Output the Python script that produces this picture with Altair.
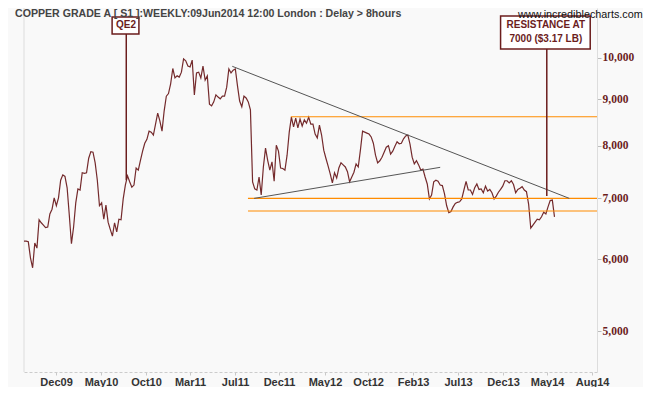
import altair as alt
import pandas as pd

# ---------------- data ----------------
start_date = "2009-09-21"          # first weekly bar (Mondays), last = 2014-06-09
prices = [
    6280, 6280, 6270, 6020, 5870, 6250, 6170, 6630, 6580, 6540,
    6500, 6510, 6730, 6810, 7010, 6870, 7010, 7330, 7430, 7400,
    7190, 6710, 6240, 6510, 6920, 7170, 7150, 7470, 7460, 7470,
    7750, 7880, 7870, 7660, 7330, 6870, 6920, 6640, 6880, 6590,
    6470,
    6360, 6580, 6430, 6640, 6630, 6990, 7240, 7410, 7300, 7200,
    7240, 7560, 7520, 7710, 7890, 8050, 8130, 8300, 8280, 8220,
    8450, 8690, 8520, 8300, 8740, 9070, 9130, 9360, 9730, 9500,
    9550, 9520, 9640, 9970, 9920, 9790, 9770, 9940, 9100, 9620,
    9640, 9500, 9790, 9450, 9550, 8890, 8850, 8940, 9100, 9050,
    9010, 9070, 9070, 9280, 9720, 9620, 9690, 9720, 9310, 8960,
    8830, 9070, 9030, 8940, 8760, 7300, 7170, 7150, 7390, 7060,
    7580, 7950, 7710, 7520, 7680, 7310, 8010, 7890, 7560, 7550,
    7520, 7810, 8280,
    8600, 8390, 8580, 8370, 8560, 8410, 8540, 8470, 8600, 8450,
    8450, 8240, 8160, 8430, 8220, 7910, 7750, 7600, 7450, 7280,
    7470, 7370, 7560, 7660, 7620, 7580, 7490, 7300, 7390, 7480,
    7640, 7580, 7910, 8300, 8280, 8260, 8240, 8180, 8050,
    7810, 7660, 7700, 7770, 7870, 7970, 8000, 7830, 7890, 7990,
    8080, 8040, 8050, 8140, 8200, 8220, 8030, 7770, 7640, 7700,
    7620, 7520, 7540, 7390, 7260, 6990, 7060, 7300, 7330, 7310,
    7240, 7230, 7080, 6870, 6750, 6770, 6850, 6910, 6930, 6940,
    6990,
    7150, 7310, 7150, 7150, 7070, 7190, 7260, 7160, 7170, 7100,
    7220, 7130, 7160, 7100, 6990, 7040, 7110, 7160, 7220, 7320,
    7320, 7280, 7320, 7250, 7100, 7160, 7180, 7210, 7150, 7120,
    6900, 6490, 6540, 6590, 6640, 6630, 6680, 6760, 6730, 6850,
    6960, 6970, 6680,
]

tick_dates = ["2010-01-03", "2010-05-29", "2010-10-22", "2011-03-14", "2011-08-07",
              "2011-12-28", "2012-05-25", "2012-10-12", "2013-03-07", "2013-07-31",
              "2013-12-24", "2014-05-16", "2014-10-09"]
tick_labels = ["Dec09", "May10", "Oct10", "Mar11", "Jul11", "Dec11", "May12",
               "Oct12", "Feb13", "Jul13", "Dec13", "May14", "Aug14"]
y_ticks = [5000, 6000, 7000, 8000, 9000, 10000]
x_domain = ["2009-09-21", "2014-10-25"]
y_domain = [4507, 11343]

# horizontal support / resistance levels
level_start = ["2011-09-18", "2011-09-18", "2012-02-04"]
level_end = ["2014-10-25", "2014-10-25", "2014-10-25"]
level_value = [7000, 6780, 8610]

# trend lines
trend_d1 = ["2011-07-29", "2011-10-08"]
trend_p1 = [9784, 7000]
trend_d2 = ["2014-07-27", "2013-06-03"]
trend_p2 = [7000, 7573]

# annotation call-outs
ann_date = ["2010-08-19", "2014-05-15"]
ann_low = [7331, 7042]
ann_high = [10619, 10223]
box_x1 = ["2010-07-04", "2013-12-16"]
box_x2 = ["2010-09-29", "2014-10-03"]
box_top = [11087, 11115]
box_bottom = [10619, 10223]
ann_text = ["QE2", "RESISTANCE AT", "7000 ($3.17 LB)"]
ann_text_date = ["2010-08-18", "2014-05-12", "2014-05-12"]
ann_text_price = [10851, 10865, 10478]

title_text = "COPPER GRADE A [ S1 ]:WEEKLY:09Jun2014 12:00 London : Delay > 8hours"
site_text = "www.incrediblecharts.com"

# ---------------- build ----------------
MAROON = "#6b1d1d"
LINE = "#742a2c"
ORANGE = "#ff8c00"
W, H = 573, 364


def dt(s):
    y, m, d = (int(v) for v in s.split("-"))
    return alt.DateTime(year=y, month=m, date=d)


dates = [d.strftime("%Y-%m-%d") for d in pd.date_range(start_date, periods=len(prices), freq="7D")]
df = pd.DataFrame({"date": dates, "price": prices})

label_expr = "[" + ",".join("'%s'" % t for t in tick_labels) + "][round(datum.index*%d)]" % (len(tick_labels) - 1)

xscale = alt.Scale(domain=[dt(s) for s in x_domain], nice=False)
yscale = alt.Scale(type="log", domain=y_domain, nice=False)
xaxis = alt.Axis(values=[dt(s) for s in tick_dates], labelExpr=label_expr,
                 labelFont="Liberation Sans", labelFontWeight="bold", labelFontSize=11,
                 labelColor="#333333", tickColor="#c8c8c8", tickSize=3, labelPadding=1,
                 domainColor="#cccccc", domainDash=[3, 2], grid=False,
                 labelFlush=False, labelOverlap=False, title=None)
yaxis = alt.Axis(orient="right", values=y_ticks, format=",",
                 labelFont="Liberation Serif", labelFontWeight="bold", labelFontSize=11.5,
                 labelColor=MAROON, tickColor="#bbbbbb", tickSize=4, labelPadding=1,
                 domainColor="#dddddd", grid=False, title=None)


def X(f):
    return alt.X(f + ":T", scale=xscale, axis=xaxis, title=None)


def Y(f):
    return alt.Y(f + ":Q", scale=yscale, axis=yaxis, title=None)


price_line = alt.Chart(df).mark_line(color=LINE, strokeWidth=1.2).encode(
    x=X("date"), y=Y("price"))

levels = alt.Chart(pd.DataFrame({"s": level_start, "e": level_end, "v": level_value})).mark_rule(
    color=ORANGE, strokeWidth=1.1).encode(x=X("s"), x2="e:T", y=Y("v"))

trends = alt.Chart(pd.DataFrame({"d1": trend_d1, "p1": trend_p1, "d2": trend_d2, "p2": trend_p2})).mark_rule(
    color="#555555", strokeWidth=1.0).encode(x=X("d1"), x2="d2:T", y=Y("p1"), y2="p2:Q")

ann_lines = alt.Chart(pd.DataFrame({"d": ann_date, "lo": ann_low, "hi": ann_high})).mark_rule(
    color=MAROON, strokeWidth=1.5).encode(x=X("d"), y=Y("lo"), y2="hi:Q")

boxes = alt.Chart(pd.DataFrame({"a": box_x1, "b": box_x2, "t": box_top, "u": box_bottom})).mark_rect(
    fill="#ffffff", stroke=MAROON, strokeWidth=1.5).encode(x=X("a"), x2="b:T", y=Y("t"), y2="u:Q")

box_text = alt.Chart(pd.DataFrame({"d": ann_text_date, "p": ann_text_price, "t": ann_text})).mark_text(
    font="Liberation Sans", fontWeight="bold", fontSize=10, color=MAROON, baseline="middle").encode(
    x=X("d"), y=Y("p"), text="t:N")

left_edge = alt.Chart(pd.DataFrame({"k": [0]})).mark_rule(color="#dddddd", strokeWidth=1).encode(
    x=alt.value(0), y=alt.value(0), y2=alt.value(H))

title = alt.Chart(pd.DataFrame({"t": [title_text]})).mark_text(
    font="Liberation Sans", fontWeight="bold", fontSize=10.6, color="#444444",
    align="left", baseline="top").encode(x=alt.value(-9), y=alt.value(1), text="t:N")

site = alt.Chart(pd.DataFrame({"t": [site_text]})).mark_text(
    font="Liberation Sans", fontSize=10.8, color="#111111",
    align="right", baseline="top").encode(x=alt.value(618.7), y=alt.value(1), text="t:N")

chart = alt.layer(left_edge, price_line, levels, trends, ann_lines, boxes, box_text, title, site).properties(
    width=W, height=H,
    padding={"left": 16, "top": 0, "right": 46, "bottom": 15},
    autosize=alt.AutoSizeParams(type="none"),
    background="#f9f9f9",
).configure_view(stroke=None)

chart.save("out.html", embed_options={"renderer": "svg", "actions": False})
